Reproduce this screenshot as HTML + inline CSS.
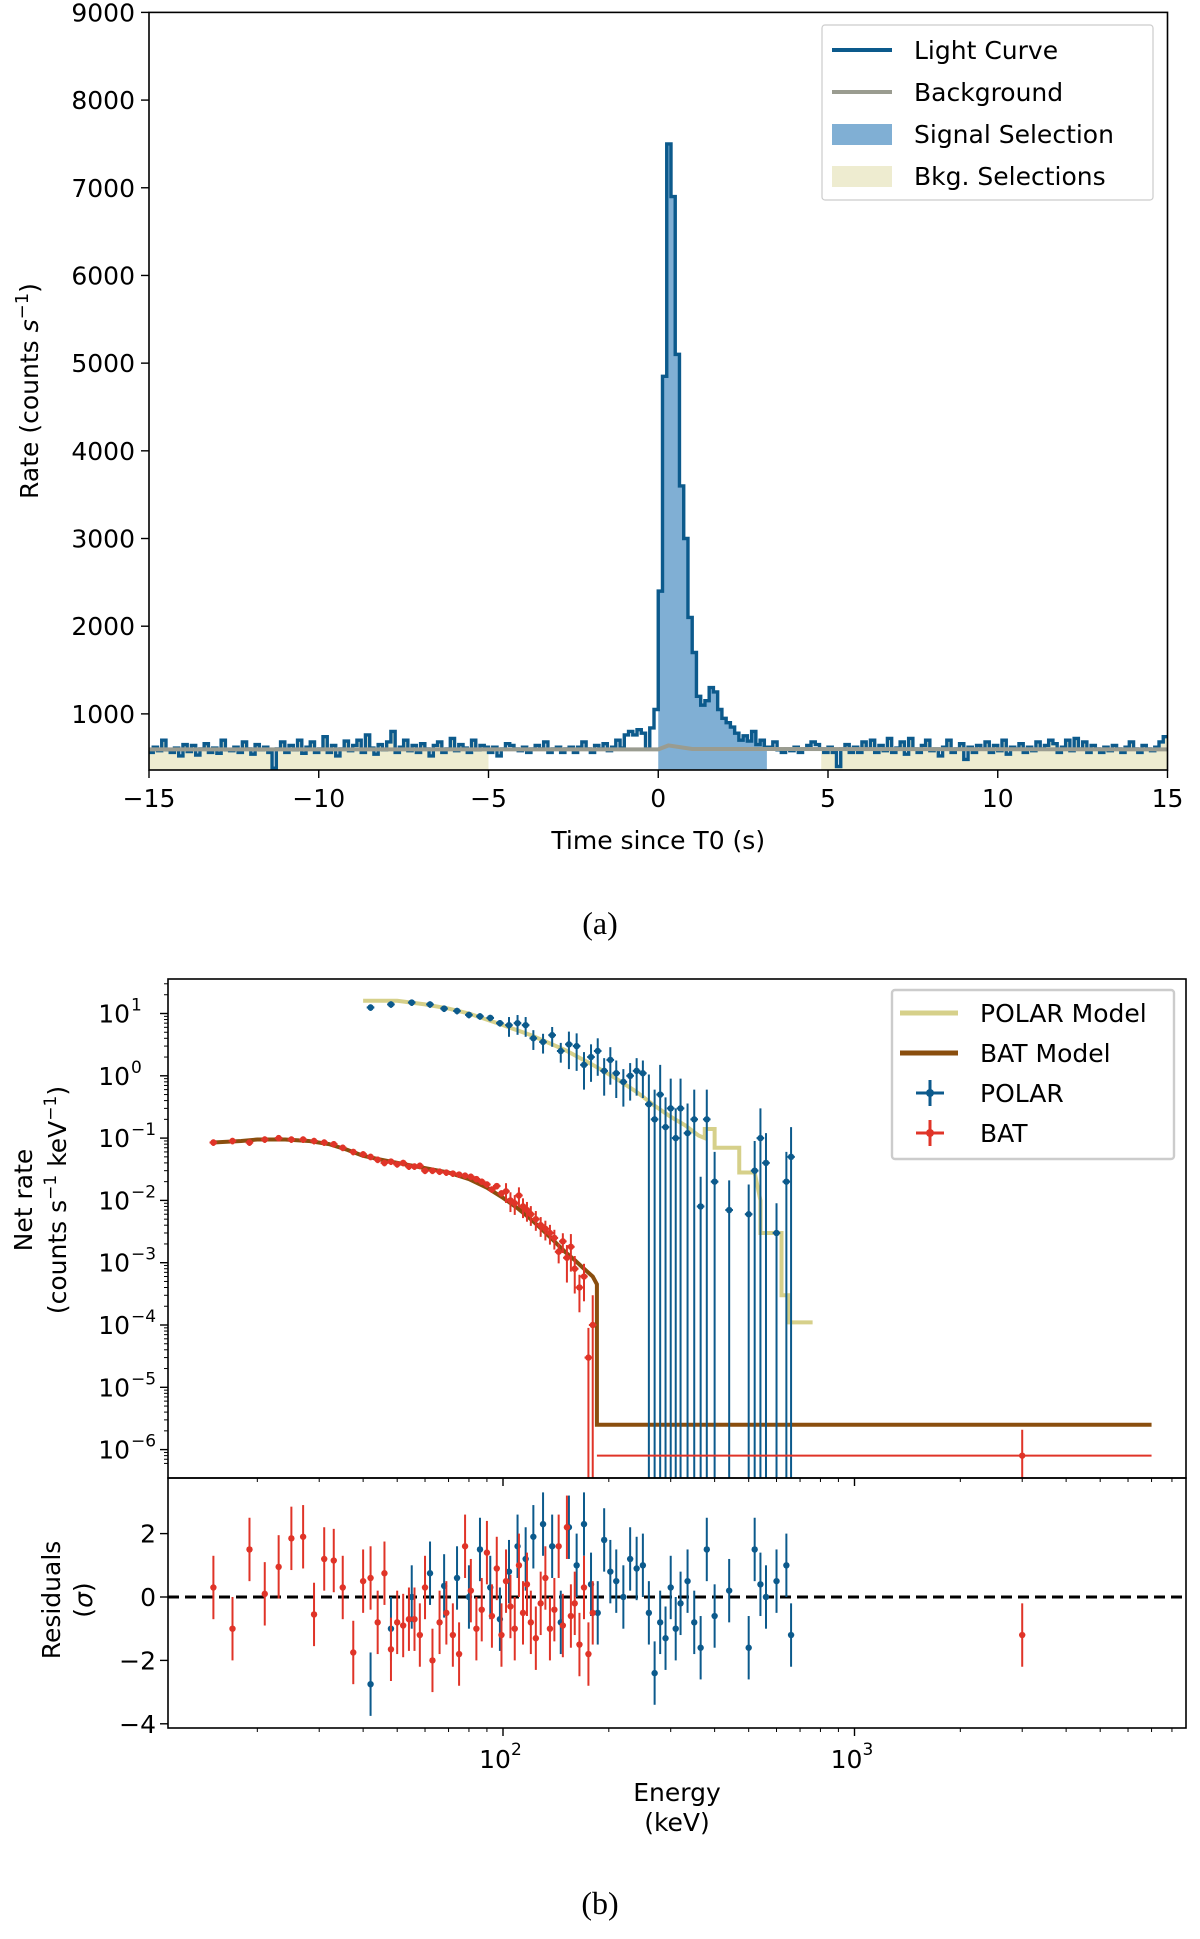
<!DOCTYPE html>
<html><head><meta charset="utf-8">
<style>
html,body{margin:0;padding:0;background:#fff;}
svg{display:block;}
text{font-family:"DejaVu Sans","Liberation Sans",sans-serif;fill:#000;}
.serif{font-family:"Liberation Serif",serif;}
</style></head>
<body>
<svg id="fig" width="1200" height="1939" viewBox="0 0 1200 1939" xmlns="http://www.w3.org/2000/svg">
  <g id="pa"></g>
  <g id="pb"></g>
  <g id="pr"></g>
  <text x="600" y="934" font-size="32" text-anchor="middle" class="serif">(a)</text>
  <text x="600" y="1914" font-size="32" text-anchor="middle" class="serif">(b)</text>
</svg>
<script>
// ---------- Panel (a) data ----------
const lcStart = -15;
const lcWidth = 0.125;
const lcPre = [560,620,580,700,590,560,610,520,650,570,640,530,600,660,560,610,550,700,590,580,
620,560,680,600,540,650,590,620,560,380,600,680,560,640,590,700,550,620,680,560,
600,740,560,640,520,600,690,580,640,700,560,760,610,540,650,590,680,800,560,620,
700,580,640,560,660,600,520,640,680,560,600,720,580,650,610,560,700,590,640,620,
560,620,520,600,660,640,600,580,620,560,600,640,600,680,560,600,620,560,600,620,
560,620,680,600,560,640,600,660,580,620,700,610,760,800,760,820,780,600,840,1050];
const lcPeak = [2400,4850,7500,6900,5100,3600,3000,2100,1700,1200,1100,1150,1300,1250,1050,950,900,850,780,700,750,690,800,650,700,620];
const lcPost = [620,680,590,560,600,580,620,560,600,640,680,650,600,560,620,560,400,600,650,560,
620,560,680,600,700,560,640,580,720,560,610,680,540,720,600,560,640,700,580,600,
520,620,700,560,600,660,480,620,560,640,600,680,560,640,580,700,540,620,600,660,
560,620,580,680,600,640,700,660,560,620,700,580,720,600,680,560,640,600,560,620,
580,640,600,560,620,680,600,560,640,600,580,620,680,740];
const bgTimes = [-15,0,0.3,1,15];
const bgRates = [595,595,640,600,595];
const sigSel = [0,3.2];
const bkgSels = [[-15,-5],[4.8,15]];
const aYTicks = [1000,2000,3000,4000,5000,6000,7000,8000,9000];
const aXTicks = [-15,-10,-5,0,5,10,15];

// ---------- Panel (b) data ----------
const polE = [42,48,55,62,68,74,80,86,92,98,104,110,116,122,130,138,146,154,162,170,178,186,194,202,210,220,230,240,250,260,270,280,290,300,310,320,335,350,365,380,400,440,500,520,540,560,600,640,660];
const polV = [12.5,14,15,14,12,11,9.5,9,8.5,7,6.5,7,6.5,4,3.5,4.5,2.5,3.2,3,1.5,2,2.5,1.2,1.8,1.1,0.8,1.0,1.2,1.1,0.35,0.2,0.5,0.15,0.3,0.1,0.3,0.12,0.2,0.008,0.2,0.02,0.007,0.006,0.03,0.1,0.04,0.003,0.02,0.05];
const polR = [-2.75,-1.0,0.0,0.75,0.35,0.6,0.0,1.5,0.3,-0.7,0.8,1.6,1.2,1.9,2.3,1.6,-0.8,2.2,1.0,2.3,0.4,-0.5,1.8,0.8,0.5,0.0,1.2,0.9,1.0,-0.5,-2.4,-0.8,-1.3,0.3,-1.0,-0.2,0.5,-0.8,-1.6,1.5,-0.6,0.2,-1.6,1.5,0.4,0.0,0.5,1.0,-1.2];
const batE = [15,17,19,21,23,25,27,29,31,33,35,37.5,40,42,44,46,48,50,52,54,56,58,60,63,66,69,72,75,78,81,84,87,90,93,96,99,102,105,108,111,114,117,120,124,128,132,136,140,144,148,152,156,160,165,170,175,180];
const batV = [0.085,0.09,0.085,0.095,0.1,0.095,0.095,0.09,0.085,0.08,0.07,0.06,0.055,0.05,0.045,0.04,0.042,0.038,0.04,0.035,0.035,0.036,0.03,0.03,0.029,0.028,0.027,0.026,0.025,0.024,0.022,0.02,0.018,0.015,0.017,0.013,0.014,0.01,0.009,0.012,0.008,0.007,0.006,0.005,0.004,0.0035,0.003,0.0025,0.0015,0.0022,0.0012,0.0018,0.0008,0.0004,0.0006,0.00003,0.0001];
const batR = [0.3,-1.0,1.5,0.1,0.95,1.85,1.9,-0.55,1.2,1.15,0.3,-1.75,0.5,0.6,-0.8,0.75,-1.65,-0.8,-0.9,-0.7,-0.7,-1.2,0.3,-2.0,-0.8,-0.5,-1.2,-1.8,1.6,0.2,-1.0,-0.4,1.4,-0.6,0.9,-1.2,0.5,-0.3,-1.0,1.0,-0.5,0.4,-0.8,-1.3,-0.2,0.6,-1.0,-0.4,1.6,-0.9,2.2,-0.6,-0.2,-1.5,0.3,-1.8,-0.5];
const batHigh = {E:3000, v:8e-7, r:-1.2, lo:185, hi:7000};
const polModelE = [40,50,60,70,80,100,120,150,180,210,240,270,300,330,360,375,375,400,400,470,470,520,540,540,620,620,650,650,760];
const polModelV = [16,16,14,12,10,6.5,4.5,2.6,1.5,0.9,0.55,0.33,0.22,0.16,0.11,0.1,0.14,0.14,0.07,0.07,0.028,0.028,0.01,0.003,0.003,0.0003,0.0003,0.00011,0.00011];
const batModelE = [15,18,20,24,28,32,36,40,45,50,60,70,80,90,100,110,120,130,140,150,160,170,180,185,185,7000];
const batModelV = [0.085,0.09,0.095,0.095,0.09,0.08,0.065,0.052,0.045,0.04,0.033,0.028,0.022,0.016,0.011,0.0075,0.005,0.0033,0.0022,0.0015,0.0011,0.0008,0.0006,0.00045,2.5e-6,2.5e-6];
const bYTicks = [1,0,-1,-2,-3,-4,-5,-6];
const rYTicks = [2,0,-2,-4];
const bXTicks = [2,3];

const NS = "http://www.w3.org/2000/svg";
function mk(parent, tag, attrs, txt){
  const e = document.createElementNS(NS, tag);
  for (const k in attrs) e.setAttribute(k, attrs[k]);
  if (txt !== undefined) e.textContent = txt;
  parent.appendChild(e);
  return e;
}

// ---------- Panel (a) ----------
const A = {l:149, r:1167.5, t:12.4, b:770, xmin:-15, xmax:15, ymin:360, ymax:9000};
const xA = t => A.l + (t - A.xmin) / (A.xmax - A.xmin) * (A.r - A.l);
const yA = v => A.b - (v - A.ymin) / (A.ymax - A.ymin) * (A.b - A.t);
const rates = lcPre.concat(lcPeak, lcPost);
const pa = document.getElementById('pa');

function fillRegion(t0, t1, color, name){
  let d = 'M' + xA(t0) + ',' + A.b;
  for (let i = 0; i < rates.length; i++){
    const s = lcStart + i*lcWidth, e = s + lcWidth;
    if (e <= t0 || s >= t1) continue;
    const a = Math.max(s,t0), b = Math.min(e,t1);
    const y = yA(Math.max(rates[i], A.ymin));
    d += 'L' + xA(a) + ',' + y + 'L' + xA(b) + ',' + y;
  }
  d += 'L' + xA(t1) + ',' + A.b + 'Z';
  const p = mk(pa, 'path', {d:d, fill:color, stroke:'none'});
  
  
}
bkgSels.forEach((s, i) => fillRegion(s[0], s[1], '#eeecd0', 'bkg-selection-' + (i+1)));
fillRegion(sigSel[0], sigSel[1], '#80afd4', 'signal-selection');

let dLC = '';
rates.forEach((v, i) => {
  const s = lcStart + i*lcWidth;
  const y = yA(Math.max(v, A.ymin));
  dLC += (i === 0 ? 'M' : 'L') + xA(s) + ',' + y + 'L' + xA(s + lcWidth) + ',' + y;
});
const lc = mk(pa, 'path', {d:dLC, fill:'none', stroke:'#0c5a8c', 'stroke-width':3.4, 'stroke-linejoin':'miter'});



let dBG = '';
bgTimes.forEach((t, i) => { dBG += (i ? 'L' : 'M') + xA(t) + ',' + yA(bgRates[i]); });
const bgl = mk(pa, 'path', {d:dBG, fill:'none', stroke:'#9a9c90', 'stroke-width':4});



const fa = mk(pa, 'rect', {x:A.l, y:A.t, width:A.r-A.l, height:A.b-A.t, fill:'none', stroke:'#000', 'stroke-width':1.6});


aYTicks.forEach(v => {
  const y = yA(v);
  mk(pa, 'line', {x1:A.l-8, x2:A.l, y1:y, y2:y, stroke:'#000', 'stroke-width':1.4});
  const t = mk(pa, 'text', {x:A.l-14, y:y+9, 'font-size':25, 'text-anchor':'end'}, String(v));
  
  
});
aXTicks.forEach(v => {
  const x = xA(v);
  mk(pa, 'line', {x1:x, x2:x, y1:A.b, y2:A.b+8, stroke:'#000', 'stroke-width':1.4});
  const t = mk(pa, 'text', {x:x, y:A.b+37, 'font-size':25, 'text-anchor':'middle'}, v < 0 ? '\u2212' + Math.abs(v) : String(v));
  
  
});
const xta = mk(pa, 'text', {x:(A.l+A.r)/2, y:849, 'font-size':25, 'text-anchor':'middle'}, 'Time since T0 (s)');


const yta = mk(pa, 'text', {x:0, y:0, 'font-size':25, 'text-anchor':'middle', transform:'translate(38,391) rotate(-90)'});
yta.innerHTML = 'Rate (counts <tspan font-style="italic">s</tspan><tspan dy="-10" font-size="18">\u22121</tspan><tspan dy="10">)</tspan>';



// legend a
const lgA = mk(pa, 'g', {});


mk(lgA, 'rect', {x:822, y:25, width:331, height:175, fill:'#fff', stroke:'#ccc', 'stroke-width':1.2, rx:3});
[['Light Curve','line','#0c5a8c'],['Background','line','#9a9c90'],['Signal Selection','box','#80afd4'],['Bkg. Selections','box','#eeecd0']].forEach((it, i) => {
  const y = 50 + i*42;
  const g = mk(lgA, 'g', {});
  
  
  if (it[1] === 'line') mk(g, 'line', {x1:832, x2:892, y1:y, y2:y, stroke:it[2], 'stroke-width':4});
  else mk(g, 'rect', {x:832, y:y-10, width:60, height:21, fill:it[2]});
  mk(g, 'text', {x:914, y:y+9, 'font-size':25}, it[0]);
});

// ---------- Panel (b) ----------
const B = {l:168, r:1186, t:979, b:1478};
const R = {t:1478, b:1728};
const xB = E => 503 + (Math.log10(E) - 2) * 351.5;
const yB = v => 1013.5 - (Math.log10(v) - 1) * 62.3;
const yR = r => 1597 - r * 31.7;
const pb = document.getElementById('pb');
const pr = document.getElementById('pr');
mk(document.getElementById('fig'), 'defs', {}).innerHTML =
  '<clipPath id="cb"><rect x="168" y="979" width="1018" height="499"/></clipPath><clipPath id="cr"><rect x="168" y="1478" width="1018" height="250"/></clipPath>';
const gb = mk(pb, 'g', {'clip-path':'url(#cb)'});
const gr = mk(pr, 'g', {'clip-path':'url(#cr)'});

function modelPath(Es, Vs, color, name){
  let d = '';
  Es.forEach((E, i) => { d += (i ? 'L' : 'M') + xB(E) + ',' + yB(Vs[i]); });
  const p = mk(gb, 'path', {d:d, fill:'none', stroke:color, 'stroke-width':4});
  
  
}
modelPath(polModelE, polModelV, '#d6d08a', 'polar-model');
modelPath(batModelE, batModelV, '#8a4e0e', 'bat-model');

function specPoint(g, E, v, c, name){
  const frac = E < 100 ? 0.12 : (E < 150 ? 0.35 : 0.6);
  const lowZero = (c === '#0c5a8c' && E >= 255) || (c === '#e03428' && v < 2e-4);
  const hi = v * (1 + (E >= 255 || v < 2e-4 ? 2 : frac));
  const lo = lowZero ? 1e-8 : v * (1 - frac);
  const dx = E * 0.025;
  const grp = mk(g, 'g', {});
  
  
  mk(grp, 'line', {x1:xB(E), x2:xB(E), y1:yB(lo), y2:yB(hi), stroke:c, 'stroke-width':2});
  mk(grp, 'line', {x1:xB(E-dx), x2:xB(E+dx), y1:yB(v), y2:yB(v), stroke:c, 'stroke-width':2});
  mk(grp, 'circle', {cx:xB(E), cy:yB(v), r:3.2, fill:c});
}
polE.forEach((E, i) => specPoint(gb, E, polV[i], '#0c5a8c', 'polar-point'));
batE.forEach((E, i) => specPoint(gb, E, batV[i], '#e03428', 'bat-point'));
const hp = mk(gb, 'g', {});


mk(hp, 'line', {x1:xB(batHigh.lo), x2:xB(batHigh.hi), y1:yB(batHigh.v), y2:yB(batHigh.v), stroke:'#e03428', 'stroke-width':2});
mk(hp, 'line', {x1:xB(batHigh.E), x2:xB(batHigh.E), y1:yB(1e-8), y2:yB(batHigh.v*2.6), stroke:'#e03428', 'stroke-width':2});
mk(hp, 'circle', {cx:xB(batHigh.E), cy:yB(batHigh.v), r:3.2, fill:'#e03428'});

const zl = mk(gr, 'line', {x1:B.l, x2:B.r, y1:yR(0), y2:yR(0), stroke:'#000', 'stroke-width':3, 'stroke-dasharray':'11,6'});


function resPoint(E, r, c, name){
  const grp = mk(gr, 'g', {});
  
  
  mk(grp, 'line', {x1:xB(E), x2:xB(E), y1:yR(r-1), y2:yR(r+1), stroke:c, 'stroke-width':2});
  mk(grp, 'circle', {cx:xB(E), cy:yR(r), r:3.2, fill:c});
}
polE.forEach((E, i) => resPoint(E, polR[i], '#0c5a8c', 'polar-residual'));
batE.forEach((E, i) => resPoint(E, batR[i], '#e03428', 'bat-residual'));
resPoint(batHigh.E, batHigh.r, '#e03428', 'bat-residual-high');

const fb = mk(pb, 'rect', {x:B.l, y:B.t, width:B.r-B.l, height:B.b-B.t, fill:'none', stroke:'#000', 'stroke-width':1.6});


const fr = mk(pr, 'rect', {x:B.l, y:R.t, width:B.r-B.l, height:R.b-R.t, fill:'none', stroke:'#000', 'stroke-width':1.6});



bYTicks.forEach(p => {
  const y = yB(Math.pow(10, p));
  mk(pb, 'line', {x1:B.l-8, x2:B.l, y1:y, y2:y, stroke:'#000', 'stroke-width':1.4});
  for (let m = 2; m <= 9; m++){
    const ym = yB(m * Math.pow(10, p));
    if (ym > B.t && ym < B.b) mk(pb, 'line', {x1:B.l-4, x2:B.l, y1:ym, y2:ym, stroke:'#000', 'stroke-width':1});
  }
  const t = mk(pb, 'text', {x:B.l-38, y:y+9, 'font-size':25, 'text-anchor':'end'}, '10');
  
  
  const sup = mk(pb, 'text', {x:B.l-37, y:y-3, 'font-size':17, 'text-anchor':'start'}, p < 0 ? '\u2212' + Math.abs(p) : String(p));
  
  
});
[6,7,8,9].forEach(m => { const ym = yB(m*1e-7); if (ym < B.b) mk(pb, 'line', {x1:B.l-4, x2:B.l, y1:ym, y2:ym, stroke:'#000', 'stroke-width':1}); });
rYTicks.forEach(v => {
  const y = yR(v);
  mk(pr, 'line', {x1:B.l-8, x2:B.l, y1:y, y2:y, stroke:'#000', 'stroke-width':1.4});
  const t = mk(pr, 'text', {x:B.l-12, y:y+9, 'font-size':25, 'text-anchor':'end'}, v < 0 ? '\u2212' + Math.abs(v) : String(v));
  
  
});
for (let p = 1; p <= 3; p++){
  for (let m = 1; m <= 9; m++){
    const E = m * Math.pow(10, p);
    const x = xB(E);
    if (x < B.l || x > B.r) continue;
    const len = m === 1 ? 8 : 4;
    mk(pr, 'line', {x1:x, x2:x, y1:R.b, y2:R.b+len, stroke:'#000', 'stroke-width':m===1?1.4:1});
    mk(pb, 'line', {x1:x, x2:x, y1:B.b, y2:B.b+len, stroke:'#000', 'stroke-width':m===1?1.4:1});
  }
}
bXTicks.forEach(p => {
  const x = xB(Math.pow(10, p));
  const t = mk(pr, 'text', {x:x-8, y:R.b+40, 'font-size':25, 'text-anchor':'middle'}, '10');
  
  
  mk(pr, 'text', {x:x+8, y:R.b+27, 'font-size':17}, String(p));
});
const xtb = mk(pr, 'text', {x:677, y:1801, 'font-size':25, 'text-anchor':'middle'}, 'Energy');


const xtb2 = mk(pr, 'text', {x:677, y:1831, 'font-size':25, 'text-anchor':'middle'}, '(keV)');


const ytb = mk(pb, 'text', {x:0, y:0, 'font-size':25, 'text-anchor':'middle', transform:'translate(32,1200) rotate(-90)'}, 'Net rate');


const ytb2 = mk(pb, 'text', {x:0, y:0, 'font-size':25, 'text-anchor':'middle', transform:'translate(66,1200) rotate(-90)'});
ytb2.innerHTML = '(counts s<tspan dy="-10" font-size="17">\u22121</tspan><tspan dy="10"> keV</tspan><tspan dy="-10" font-size="17">\u22121</tspan><tspan dy="10">)</tspan>';


const ytr = mk(pr, 'text', {x:0, y:0, 'font-size':25, 'text-anchor':'middle', transform:'translate(60,1600) rotate(-90)'}, 'Residuals');


const ytr2 = mk(pr, 'text', {x:0, y:0, 'font-size':25, 'text-anchor':'middle', transform:'translate(92,1600) rotate(-90)'});
ytr2.innerHTML = '(<tspan font-style="italic">\u03c3</tspan>)';



const lgB = mk(pb, 'g', {});


mk(lgB, 'rect', {x:892, y:990, width:282, height:169, fill:'#fff', stroke:'#ccc', 'stroke-width':2.4, rx:3});
[['POLAR Model','line','#d6d08a'],['BAT Model','line','#8a4e0e'],['POLAR','pt','#0c5a8c'],['BAT','pt','#e03428']].forEach((it, i) => {
  const y = 1013 + i*40;
  const g = mk(lgB, 'g', {});
  
  
  if (it[1] === 'line') mk(g, 'line', {x1:900, x2:958, y1:y, y2:y, stroke:it[2], 'stroke-width':5});
  else {
    mk(g, 'line', {x1:916, x2:944, y1:y, y2:y, stroke:it[2], 'stroke-width':3});
    mk(g, 'line', {x1:930, x2:930, y1:y-13, y2:y+13, stroke:it[2], 'stroke-width':3});
    mk(g, 'circle', {cx:930, cy:y, r:4, fill:it[2]});
  }
  mk(g, 'text', {x:980, y:y+9, 'font-size':25}, it[0]);
});
</script>
</body></html>
